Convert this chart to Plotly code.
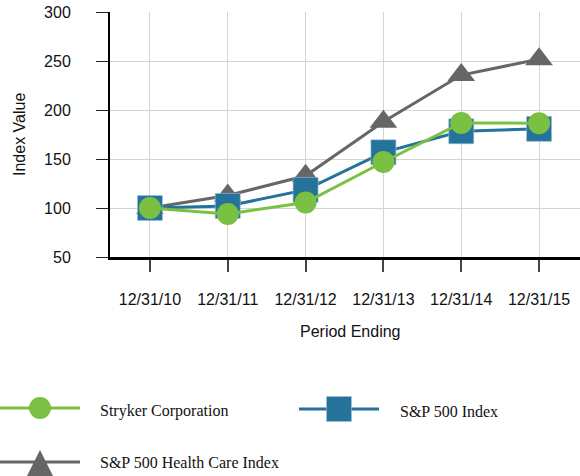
import plotly.graph_objects as go

periods = ["12/31/10", "12/31/11", "12/31/12", "12/31/13", "12/31/14", "12/31/15"]
stryker = [100.0, 93.97, 105.63, 146.91, 186.86, 186.49]
sp500 = [100.0, 102.11, 118.45, 156.82, 178.28, 180.75]
sp_health = [100.0, 112.73, 132.90, 188.00, 235.63, 251.86]
series_names = ["Stryker Corporation", "S&P 500 Index", "S&P 500 Health Care Index"]

GREEN = "#7AC143"
BLUE = "#25739A"
GRAY = "#666666"
SANS = "Arial, Liberation Sans, sans-serif"
SERIF = "Times New Roman, Liberation Serif, serif"

W, H = 580, 476
L, R, T, B = 110, 0, 12, 219
PW = W - L - R
PH = H - T - B


def px(x):
    return (x - L) / PW


def py(y):
    return (T + PH - y) / PH


fig = go.Figure()
fig.add_trace(go.Scatter(x=periods, y=sp_health, name=series_names[2], mode="lines+markers",
                         line=dict(color=GRAY, width=3),
                         marker=dict(symbol="triangle-up", size=24, color=GRAY)))
fig.add_trace(go.Scatter(x=periods, y=sp500, name=series_names[1], mode="lines+markers",
                         line=dict(color=BLUE, width=3),
                         marker=dict(symbol="square", size=25, color=BLUE,
                                     line=dict(color="#9cc3d6", width=0.6))))
fig.add_trace(go.Scatter(x=periods, y=stryker, name=series_names[0], mode="lines+markers",
                         line=dict(color=GREEN, width=3),
                         marker=dict(symbol="circle", size=22, color=GREEN)))

shapes = []
annotations = []

# custom legend
rows = [
    (series_names[0], GREEN, "circle", 0, 80, 40, 408, 98, 411),
    (series_names[1], BLUE, "square", 299, 379, 339, 409, 398, 411),
    (series_names[2], GRAY, "triangle", 0, 80, 40, 462, 98, 462),
]
for name, col, sym, x0, x1, cx, cy, tx, ty in rows:
    shapes.append(dict(type="line", xref="paper", yref="paper", x0=px(x0), x1=px(x1),
                       y0=py(cy), y1=py(cy), line=dict(color=col, width=3)))
    if sym == "circle":
        shapes.append(dict(type="circle", xref="paper", yref="paper", x0=px(cx - 11), x1=px(cx + 11),
                           y0=py(cy + 11), y1=py(cy - 11), fillcolor=col, line=dict(width=0)))
    elif sym == "square":
        shapes.append(dict(type="rect", xref="paper", yref="paper", x0=px(cx - 12.5), x1=px(cx + 12.5),
                           y0=py(cy + 12.5), y1=py(cy - 12.5), fillcolor=col,
                           line=dict(color="#9cc3d6", width=0.6)))
    else:
        path = "M {a},{b} L {c},{d} L {e},{f} Z".format(
            a=px(cx), b=py(cy - 12), c=px(cx - 13), d=py(cy + 14), e=px(cx + 13), f=py(cy + 14))
        shapes.append(dict(type="path", xref="paper", yref="paper", path=path, fillcolor=col,
                           line=dict(width=0)))
    annotations.append(dict(text=name, xref="paper", yref="paper", x=px(tx), y=py(ty),
                            xanchor="left", yanchor="middle", showarrow=False,
                            font=dict(family=SERIF, size=16, color="#111111")))

annotations.append(dict(text="Index Value", xref="paper", yref="paper", x=px(19), y=py(135),
                        textangle=-90, xanchor="center", yanchor="middle", showarrow=False,
                        font=dict(family=SANS, size=16, color="#111111")))
annotations.append(dict(text="Period Ending", xref="paper", yref="paper", x=px(350.5), y=py(331),
                        xanchor="center", yanchor="middle", showarrow=False,
                        font=dict(family=SANS, size=16, color="#111111")))

fig.update_layout(
    width=W, height=H,
    margin=dict(l=L, r=R, t=T, b=B, pad=0),
    paper_bgcolor="white", plot_bgcolor="white",
    showlegend=False,
    shapes=shapes,
    annotations=annotations,
    font=dict(family=SANS, size=16, color="#111111"),
)
fig.update_xaxes(type="category", range=[-0.513, 5.526], showgrid=True, gridcolor="#d4d4d4", gridwidth=1,
                 showline=True, linecolor="black", linewidth=3,
                 ticks="outside", ticklen=12, tickcolor="#444444", tickwidth=1.5,
                 ticklabelstandoff=14, tickfont=dict(family=SANS, size=16, color="#111111"),
                 zeroline=False, fixedrange=True)
fig.update_yaxes(range=[50, 300], tickvals=[50, 100, 150, 200, 250, 300], showgrid=True,
                 gridcolor="#d4d4d4", gridwidth=1,
                 showline=True, linecolor="black", linewidth=2,
                 ticks="outside", ticklen=12, tickcolor="#222222", tickwidth=1,
                 ticklabelstandoff=22, tickfont=dict(family=SANS, size=16, color="#111111"),
                 zeroline=False, fixedrange=True)

fig.write_html("out.html", config={"displayModeBar": False},
               post_script="document.body.style.margin='0';document.body.style.overflow='hidden';")
